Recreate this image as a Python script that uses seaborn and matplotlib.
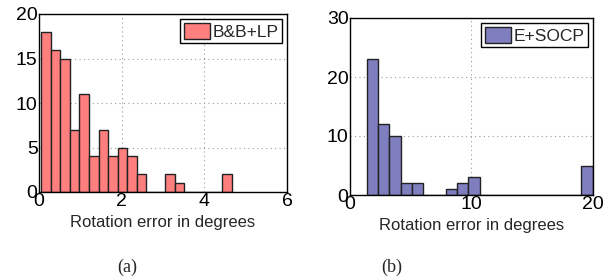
import numpy as np
import pandas as pd
import matplotlib
matplotlib.use("Agg")
import matplotlib.pyplot as plt
import seaborn as sns

# histogram counts (20 bins each, min..max of data)
bb_counts = [18, 16, 15, 7, 11, 4, 7, 4, 5, 4, 2, 0, 0, 2, 1, 0, 0, 0, 0, 2]
bb_range = (0.056, 4.67)
socp_counts = [23, 12, 10, 2, 2, 0, 0, 1, 2, 3, 0, 0, 0, 0, 0, 0, 0, 0, 0, 5]
socp_range = (1.37, 19.97)

sns.set_style("white")
plt.rcParams['font.family'] = ['Liberation Sans', 'DejaVu Sans']


def draw_hist(ax, counts, rng, color, label, xlim, xticks, ylim, yticks):
    edges = np.linspace(rng[0], rng[1], len(counts) + 1)
    centers = (edges[:-1] + edges[1:]) / 2
    df = pd.DataFrame({"err": centers, "n": counts})
    sns.histplot(data=df, x="err", weights="n", bins=len(counts),
                 binrange=rng, ax=ax,
                 color=color, alpha=1, edgecolor="#222222", linewidth=1,
                 label=label)
    ax.set_xlim(*xlim)
    ax.set_ylim(*ylim)
    ax.set_xticks(xticks)
    ax.set_yticks(yticks)
    ax.grid(True, linestyle=(0, (1, 3)), color="#999999", linewidth=0.8)
    ax.set_axisbelow(True)
    for s in ax.spines.values():
        s.set_visible(True)
        s.set_color("black")
        s.set_linewidth(1)
    ax.tick_params(axis="both", direction="in", length=3, labelsize=14,
                   pad=1, colors="black")
    ax.set_xlabel("Rotation error in degrees", fontsize=12, labelpad=3)
    ax.set_ylabel("")
    leg = ax.legend(loc="upper right", fontsize=12.5, fancybox=False,
                    framealpha=1, edgecolor="black", borderpad=0.2,
                    handlelength=1.5, handleheight=1.1, handletextpad=0.15,
                    borderaxespad=0.3)
    leg.get_frame().set_linewidth(1)


fig = plt.figure(figsize=(6.11, 2.78), dpi=100)
ax1 = fig.add_axes([39 / 611, 1 - 192 / 278, 248 / 611, 178 / 278])
ax2 = fig.add_axes([350 / 611, 1 - 195 / 278, 243 / 611, 177 / 278])

draw_hist(ax1, bb_counts, bb_range, "#FF7F7F", "B&B+LP",
          (0, 6), [0, 2, 4, 6], (0, 20), [0, 5, 10, 15, 20])
draw_hist(ax2, socp_counts, socp_range, "#7F7FBF", "E+SOCP",
          (0, 20), [0, 10, 20], (0, 30), [0, 10, 20, 30])

fig.text(127 / 611, 1 - 267 / 278, "(a)", ha="center", va="center",
         fontsize=13, family=["Liberation Serif", "DejaVu Serif"])
fig.text(392 / 611, 1 - 267 / 278, "(b)", ha="center", va="center",
         fontsize=13, family=["Liberation Serif", "DejaVu Serif"])

fig.savefig("out.png", dpi=100)
